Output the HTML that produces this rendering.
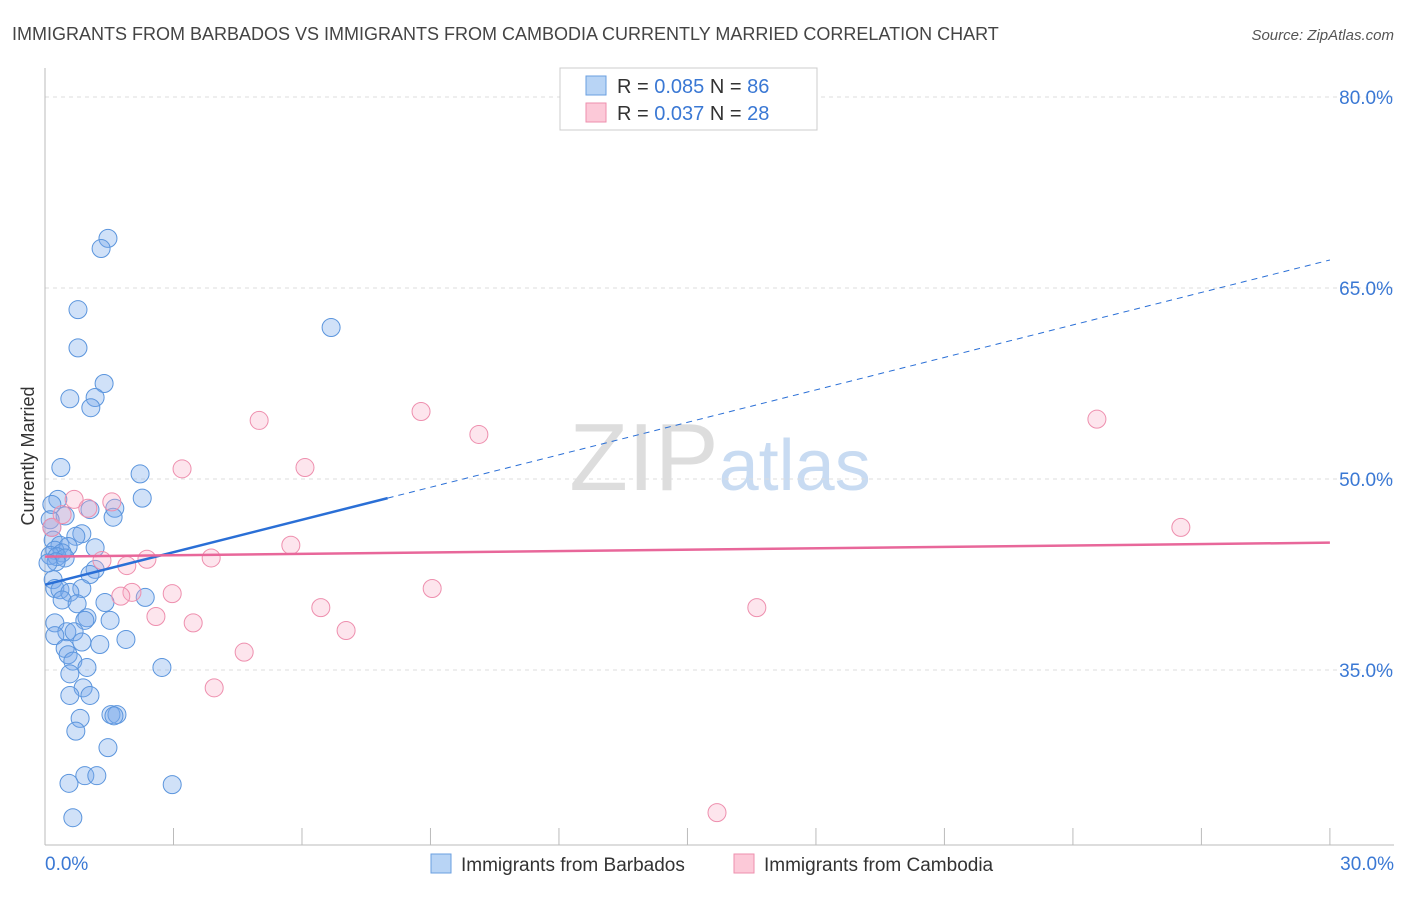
<!DOCTYPE html>
<html><head><meta charset="utf-8"><style>
body{margin:0;background:#fff;font-family:"Liberation Sans",sans-serif;}
svg text{font-family:"Liberation Sans",sans-serif;}
</style></head><body>
<svg id="chart" width="1406" height="892" xmlns="http://www.w3.org/2000/svg">
<text x="12" y="40" font-size="18" fill="#444">IMMIGRANTS FROM BARBADOS VS IMMIGRANTS FROM CAMBODIA CURRENTLY MARRIED CORRELATION CHART</text>
<text x="1394" y="40" font-size="15" fill="#555" font-style="italic" text-anchor="end">Source: ZipAtlas.com</text>
<text x="720" y="490" font-size="96" text-anchor="middle" fill="#ddd" font-family="Liberation Serif">ZIP<tspan fill="#c8dbf2" font-family="Liberation Sans" font-size="72">atlas</tspan></text>
<text transform="translate(34,456) rotate(-90)" font-size="18" fill="#333" text-anchor="middle">Currently Married</text>
<g id="grid"></g><g id="axes"></g><g id="pts"></g><g id="lines"></g>
<g>
<rect x="560" y="68" width="257" height="62" fill="#fff" stroke="#ccc"/>
<rect x="586" y="76" width="20" height="19" fill="#b8d4f5" stroke="#6a9fe0"/>
<text x="617" y="93" font-size="20" fill="#333">R = <tspan fill="#3a78d4">0.085</tspan>   N = <tspan fill="#3a78d4">86</tspan></text>
<rect x="586" y="103" width="20" height="19" fill="#fcc9d8" stroke="#ee8fae"/>
<text x="617" y="120" font-size="20" fill="#333">R = <tspan fill="#3a78d4">0.037</tspan>   N = <tspan fill="#3a78d4">28</tspan></text>
</g>
<g>
<rect x="431" y="854" width="20" height="19" fill="#b8d4f5" stroke="#6a9fe0"/>
<text x="461" y="871" font-size="19" fill="#333">Immigrants from Barbados</text>
<rect x="734" y="854" width="20" height="19" fill="#fcc9d8" stroke="#ee8fae"/>
<text x="764" y="871" font-size="19" fill="#333">Immigrants from Cambodia</text>
</g>
</svg>
<script>
const yTicks=[35,50,65,80];
const xTickLabels=["0.0%","30.0%"];
const blueX=[1.47,1.31,0.77,6.68,0.77,1.38,0.58,1.17,1.07,0.37,2.22,2.27,0.30,0.16,1.63,1.05,1.59,0.47,0.12,0.16,0.86,0.72,0.19,0.35,1.17,0.54,0.23,0.40,0.12,0.28,0.47,0.26,0.07,1.17,1.05,0.19,0.23,0.35,0.86,0.58,2.34,1.40,0.40,0.75,0.98,0.93,1.52,0.23,0.51,0.68,0.23,0.86,1.28,1.89,0.47,0.54,0.65,0.98,2.73,0.58,0.89,0.58,1.05,0.82,1.54,1.68,1.61,1.47,0.72,0.93,1.21,2.97,0.56,0.65];
const blueY=[68.9,68.1,63.3,61.9,60.3,57.5,56.3,56.4,55.6,50.9,50.4,48.5,48.4,48.0,47.7,47.6,47.0,47.1,46.8,46.2,45.7,45.5,45.2,44.8,44.6,44.7,44.4,44.2,44.0,43.9,43.8,43.5,43.4,42.9,42.5,42.1,41.4,41.3,41.4,41.1,40.7,40.3,40.5,40.2,39.1,38.9,38.9,38.7,38.0,38.0,37.7,37.2,37.0,37.4,36.7,36.2,35.7,35.2,35.2,34.7,33.6,33.0,33.0,31.2,31.5,31.5,31.4,28.9,30.2,26.7,26.7,26.0,26.1,23.4];
const pinkX=[8.78,5.00,10.13,24.56,3.20,6.07,0.68,1.56,1.00,0.40,0.16,26.52,5.74,3.88,2.38,1.33,1.91,9.04,2.03,1.77,2.97,6.44,16.62,2.59,3.46,7.03,4.65,3.95,15.69];
const pinkY=[55.3,54.6,53.5,54.7,50.8,50.9,48.4,48.2,47.7,47.2,46.2,46.2,44.8,43.8,43.7,43.6,43.2,41.4,41.1,40.8,41.0,39.9,39.9,39.2,38.7,38.1,36.4,33.6,23.8];
const blueTrend=[41.7,67.2];
const pinkTrend=[43.9,45.0];
const X=v=>45+v*42.83, Y=v=>670-(v-35)*12.733;
const NS="http://www.w3.org/2000/svg";
function mk(tag,attrs,parent){const e=document.createElementNS(NS,tag);for(const k in attrs)e.setAttribute(k,attrs[k]);document.getElementById(parent).appendChild(e);return e;}
yTicks.forEach(t=>{
 const l=mk('line',{x1:45,x2:1394,y1:Y(t),y2:Y(t),stroke:'#ddd','stroke-dasharray':'4,4'},'grid');
 
 
 const tx=mk('text',{x:1393,y:Y(t)+7,'font-size':19,fill:'#3a78d4','text-anchor':'end'},'grid');
 tx.textContent=t.toFixed(1)+'%';
 
 
});
const ax=mk('line',{x1:45,x2:45,y1:68,y2:845,stroke:'#bbb'},'axes');


const bx=mk('line',{x1:45,x2:1394,y1:845,y2:845,stroke:'#bbb'},'axes');


for(let i=0;i<=10;i++){const t=mk('line',{x1:X(i*3),x2:X(i*3),y1:828,y2:845,stroke:'#bbb'},'axes');
 
 }
[[0,xTickLabels[0],'start',45],[30,xTickLabels[1],'end',1394]].forEach(d=>{const t=mk('text',{x:d[3],y:870,'font-size':19,fill:'#3a78d4','text-anchor':d[2]},'axes');t.textContent=d[1];
 
 });
blueX.forEach((v,i)=>{const c=mk('circle',{cx:X(v),cy:Y(blueY[i]),r:9,fill:'rgba(120,170,235,0.35)',stroke:'#5b95dd','stroke-width':1},'pts');
 
 });
pinkX.forEach((v,i)=>{const c=mk('circle',{cx:X(v),cy:Y(pinkY[i]),r:9,fill:'rgba(250,170,195,0.3)',stroke:'#ee8fae','stroke-width':1},'pts');
 
 });
const bAt=x=>blueTrend[0]+(blueTrend[1]-blueTrend[0])*x/30;
const l1=mk('line',{x1:X(0),y1:Y(bAt(0)),x2:X(8),y2:Y(bAt(8)),stroke:'#2a6fd6','stroke-width':2.5},'lines');


const l2=mk('line',{x1:X(8),y1:Y(bAt(8)),x2:X(30),y2:Y(bAt(30)),stroke:'#2a6fd6','stroke-width':1,'stroke-dasharray':'6,5'},'lines');


const l3=mk('line',{x1:X(0),y1:Y(pinkTrend[0]),x2:X(30),y2:Y(pinkTrend[1]),stroke:'#e8679a','stroke-width':2.5},'lines');


</script>
</body></html>
